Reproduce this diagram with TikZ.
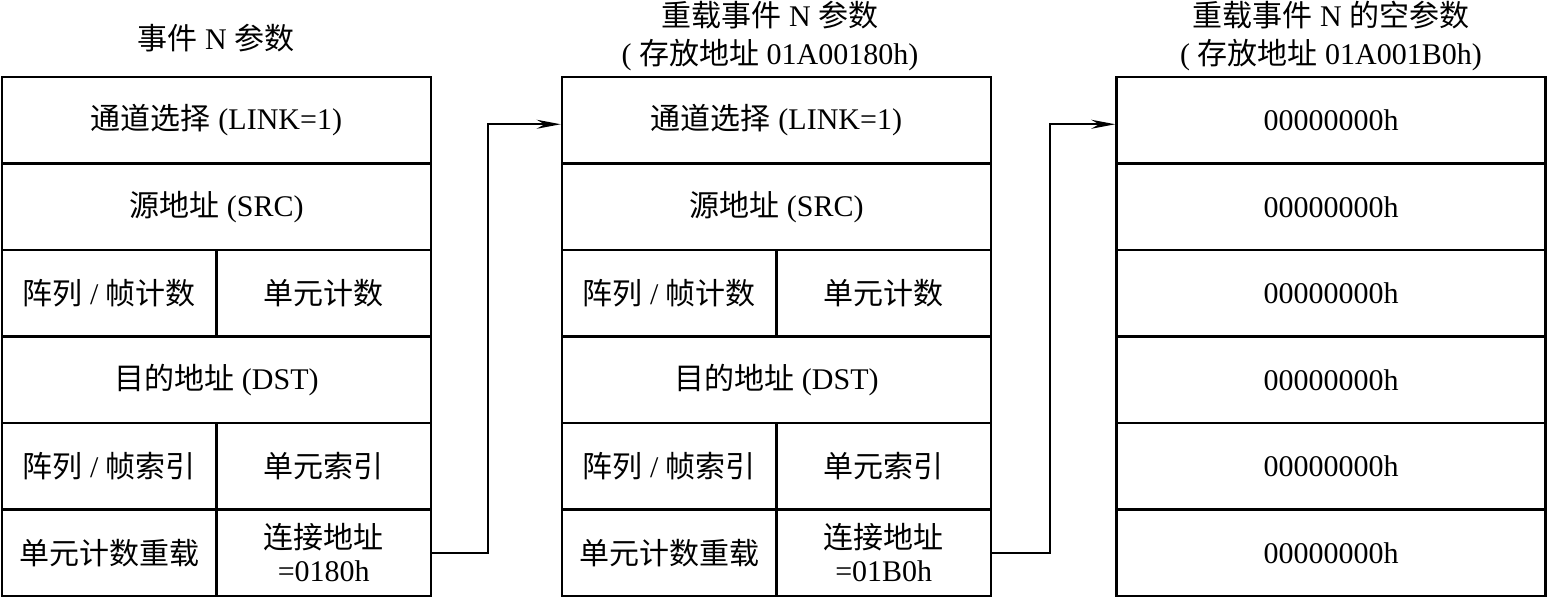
\documentclass[tikz,border=0pt]{standalone}
\usepackage{fontspec}
\setmainfont{Liberation Serif}
\newfontfamily\cjk{Noto Sans CJK SC}
\usetikzlibrary{arrows.meta}
\tikzset{
  cell/.style={draw, line width=2.5pt, inner sep=0pt, align=center, font=\fontsize{30}{33}\selectfont, minimum height=86.5pt},
  full/.style={cell, minimum width=429pt},
  half/.style={cell, minimum width=214.5pt},
  ttl/.style={inner sep=0pt, align=center, font=\fontsize{30}{38}\selectfont},
  link/.style={line width=1.8pt, -{Stealth[length=24pt,width=9pt]}}
}
\begin{document}
\begin{tikzpicture}[x=1pt,y=-1pt]
\useasboundingbox (0,0) rectangle (1547,598);
% titles
\node[ttl] (t1) at (216,38) {{\cjk 事件} N {\cjk 参数}};
\node[ttl] (t2) at (770,36) {{\cjk 重载事件} N {\cjk 参数}\\( {\cjk 存放地址} 01A00180h)};
\node[ttl] (t3) at (1331,36) {{\cjk 重载事件} N {\cjk 的空参数}\\( {\cjk 存放地址} 01A001B0h)};
% box 1
\node[full] (a1) at (216.5,120.25) {{\cjk 通道选择} (LINK=1)};
\node[full] (a2) at (216.5,206.75) {{\cjk 源地址} (SRC)};
\node[half] (a3l) at (109.25,293.25) {{\cjk 阵列} / {\cjk 帧计数}};
\node[half] (a3r) at (323.75,293.25) {{\cjk 单元计数}};
\node[full] (a4) at (216.5,379.75) {{\cjk 目的地址} (DST)};
\node[half] (a5l) at (109.25,466.25) {{\cjk 阵列} / {\cjk 帧索引}};
\node[half] (a5r) at (323.75,466.25) {{\cjk 单元索引}};
\node[half] (a6l) at (109.25,552.75) {{\cjk 单元计数重载}};
\node[half] (a6r) at (323.75,552.75) {{\cjk 连接地址}\\=0180h};
% box 2
\node[full] (b1) at (776.5,120.25) {{\cjk 通道选择} (LINK=1)};
\node[full] (b2) at (776.5,206.75) {{\cjk 源地址} (SRC)};
\node[half] (b3l) at (669.25,293.25) {{\cjk 阵列} / {\cjk 帧计数}};
\node[half] (b3r) at (883.75,293.25) {{\cjk 单元计数}};
\node[full] (b4) at (776.5,379.75) {{\cjk 目的地址} (DST)};
\node[half] (b5l) at (669.25,466.25) {{\cjk 阵列} / {\cjk 帧索引}};
\node[half] (b5r) at (883.75,466.25) {{\cjk 单元索引}};
\node[half] (b6l) at (669.25,552.75) {{\cjk 单元计数重载}};
\node[half] (b6r) at (883.75,552.75) {{\cjk 连接地址}\\=01B0h};
% box 3
\node[full] (c1) at (1331,120.25) {00000000h};
\node[full] (c2) at (1331,206.75) {00000000h};
\node[full] (c3) at (1331,293.25) {00000000h};
\node[full] (c4) at (1331,379.75) {00000000h};
\node[full] (c5) at (1331,466.25) {00000000h};
\node[full] (c6) at (1331,552.75) {00000000h};
% connectors
\draw[link] (a6r.east) -- (488,552.75) |- ([yshift=-4pt]b1.west);
\draw[link] (b6r.east) -- (1050,552.75) |- ([yshift=-4pt]c1.west);
\end{tikzpicture}
\end{document}
